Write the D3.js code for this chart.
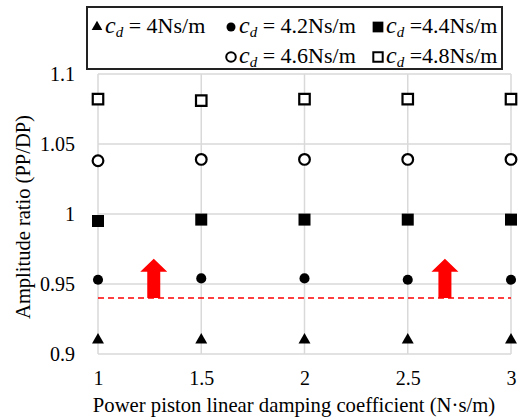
<!DOCTYPE html>
<html>
<head>
<meta charset="utf-8">
<script src="https://cdn.jsdelivr.net/npm/d3@7"></script>
<style>
  body { margin: 0; background: #fff; }
  text { font-family: "Liberation Serif", "Times New Roman", serif; }
</style>
</head>
<body>
<div id="chart"></div>
<script>
// damping coefficient values on the x axis
const xValues = [1, 1.5, 2, 2.5, 3];
const xTicks = [1, 1.5, 2, 2.5, 3];
const yTicks = [0.9, 0.95, 1, 1.05, 1.1];

// amplitude ratio for each displacer damping value
const cd40 = [0.910, 0.910, 0.910, 0.910, 0.910];
const cd42 = [0.953, 0.954, 0.954, 0.953, 0.953];
const cd44 = [0.995, 0.996, 0.996, 0.996, 0.996];
const cd46 = [1.038, 1.039, 1.039, 1.039, 1.039];
const cd48 = [1.082, 1.081, 1.082, 1.082, 1.082];

const thresholdValue = 0.94;
const arrowX = [1.27, 2.68];
const arrowTop = 0.968;

const series = [
  { label: " = 4Ns/m", values: cd40, symbol: d3.symbolTriangle, size: 62, fill: true },
  { label: " = 4.2Ns/m", values: cd42, symbol: d3.symbolCircle, size: 80, fill: true },
  { label: " =4.4Ns/m", values: cd44, symbol: d3.symbolSquare, size: 144, fill: true },
  { label: " = 4.6Ns/m", values: cd46, symbol: d3.symbolCircle, size: 90, fill: false },
  { label: " =4.8Ns/m", values: cd48, symbol: d3.symbolSquare, size: 110, fill: false }
];

const width = 527, height = 420;
const margin = { top: 74, right: 16, bottom: 66, left: 98 };

const svg = d3.select("#chart").append("svg")
  .attr("width", width)
  .attr("height", height);

const x = d3.scaleLinear().domain([1, 3]).range([margin.left, width - margin.right]);
const y = d3.scaleLinear().domain([0.9, 1.1]).range([height - margin.bottom, margin.top]);

// grid
svg.append("g")
  .selectAll("line.h")
  .data(yTicks)
  .join("line")
  .attr("x1", x(1)).attr("x2", x(3))
  .attr("y1", d => y(d)).attr("y2", d => y(d))
  .attr("stroke", "#d9d9d9").attr("stroke-width", 1.5);

svg.append("g")
  .selectAll("line.v")
  .data(xTicks)
  .join("line")
  .attr("x1", d => x(d)).attr("x2", d => x(d))
  .attr("y1", y(0.9)).attr("y2", y(1.1))
  .attr("stroke", "#d9d9d9").attr("stroke-width", 1.5);

// axes (labels only)
const yAxis = svg.append("g")
  .attr("transform", `translate(${margin.left - 20},0)`)
  .call(d3.axisLeft(y).tickValues(yTicks).tickSize(0).tickFormat(d3.format("")));
yAxis.select(".domain").remove();
yAxis.selectAll("text").attr("font-size", 20).attr("fill", "#000");

const xAxis = svg.append("g")
  .attr("transform", `translate(0,${height - margin.bottom + 14})`)
  .call(d3.axisBottom(x).tickValues(xTicks).tickSize(0).tickFormat(d3.format("")));
xAxis.select(".domain").remove();
xAxis.selectAll("text").attr("font-size", 20).attr("fill", "#000");

svg.append("text")
  .attr("x", 294)
  .attr("y", 412)
  .attr("text-anchor", "middle")
  .attr("font-size", 20.7)
  .text("Power piston linear damping coefficient (N·s/m)");

svg.append("text")
  .attr("transform", `translate(30,217) rotate(-90)`)
  .attr("text-anchor", "middle")
  .attr("font-size", 20.5)
  .text("Amplitude ratio (PP/DP)");

// threshold line and arrows
svg.append("line")
  .attr("x1", x(1)).attr("x2", x(3))
  .attr("y1", y(thresholdValue)).attr("y2", y(thresholdValue))
  .attr("stroke", "#ff0000").attr("stroke-width", 1.5)
  .attr("stroke-dasharray", "6,4");

const shaftW = 6.5, headW = 13.5, headH = 13;
svg.append("g")
  .selectAll("path")
  .data(arrowX)
  .join("path")
  .attr("d", d => {
    const cx = x(d), b = y(thresholdValue), t = y(arrowTop);
    return `M${cx - shaftW},${b} L${cx - shaftW},${t + headH} L${cx - headW},${t + headH} ` +
      `L${cx},${t} L${cx + headW},${t + headH} L${cx + shaftW},${t + headH} L${cx + shaftW},${b} Z`;
  })
  .attr("fill", "#ff0000");

// markers
series.forEach(s => {
  svg.append("g")
    .selectAll("path")
    .data(s.values.map((v, i) => [xValues[i], v]))
    .join("path")
    .attr("transform", d => `translate(${x(d[0])},${y(d[1])})`)
    .attr("d", d3.symbol().type(s.symbol).size(s.size))
    .attr("fill", s.fill ? "#000" : "#fff")
    .attr("stroke", "#000")
    .attr("stroke-width", s.fill ? 0 : 2.2);
});

// legend
const legend = svg.append("g");
legend.append("rect")
  .attr("x", 87).attr("y", 7)
  .attr("width", 415).attr("height", 62)
  .attr("fill", "#fff").attr("stroke", "#222").attr("stroke-width", 2);

const legendPos = [
  { mx: 97, tx: 105, ty: 33 },
  { mx: 231, tx: 239, ty: 33 },
  { mx: 378, tx: 386, ty: 33 },
  { mx: 231, tx: 239, ty: 63 },
  { mx: 378, tx: 386, ty: 63 }
];

series.forEach((s, i) => {
  const p = legendPos[i];
  legend.append("path")
    .attr("transform", `translate(${p.mx},${p.ty - 6})`)
    .attr("d", d3.symbol().type(s.symbol).size(s.size * 0.8))
    .attr("fill", s.fill ? "#000" : "#fff")
    .attr("stroke", "#000")
    .attr("stroke-width", s.fill ? 0 : 2);
  const t = legend.append("text")
    .attr("x", p.tx).attr("y", p.ty)
    .attr("font-size", 22);
  t.append("tspan").attr("font-style", "italic").attr("font-size", 24).text("c");
  t.append("tspan").attr("font-style", "italic").attr("font-size", 15).attr("dy", 4).text("d");
  t.append("tspan").attr("dy", -4).text(s.label);
});
</script>
</body>
</html>
